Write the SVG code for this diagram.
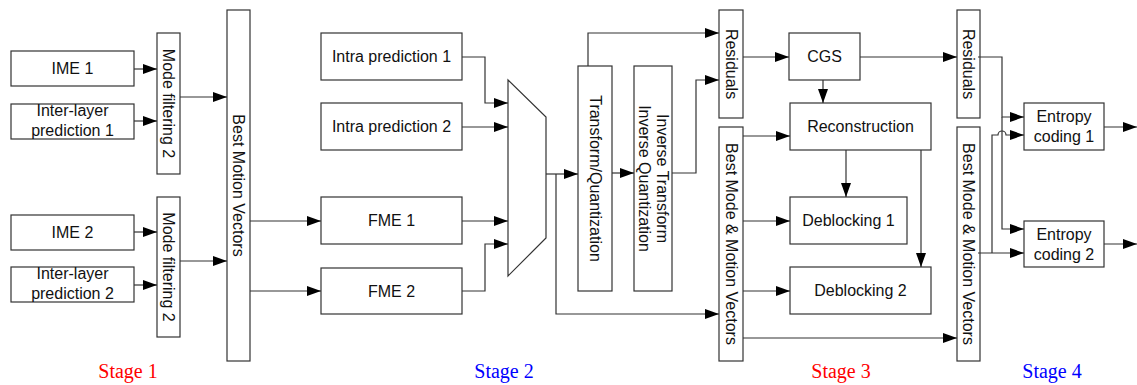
<svg xmlns="http://www.w3.org/2000/svg" width="1137" height="385" viewBox="0 0 1137 385">
  <style>
    .box { fill: #fff; stroke: #333; stroke-width: 1.2; }
    .lbl { font-family: "Liberation Sans", Arial, sans-serif; font-size: 16px; fill: #111; text-anchor: middle; }
    .vlbl { font-family: "Liberation Sans", Arial, sans-serif; font-size: 16px; fill: #111; text-anchor: middle; dominant-baseline: central; }
    .wire { fill: none; stroke: #333; stroke-width: 1.2; }
    .arr { marker-end: url(#head); }
    .stage { font-family: "Liberation Serif", "Times New Roman", serif; font-size: 20px; text-anchor: middle; }
  </style>
  <defs>
    <marker id="head" markerUnits="userSpaceOnUse" markerWidth="15" markerHeight="11" refX="14" refY="5" orient="auto">
      <path d="M0,0 L14,5 L0,10 Z" fill="#000"/>
    </marker>
  </defs>
  <rect width="1137" height="385" fill="#fff"/>

  <!-- Stage 1 -->
  <g id="ime1"><rect class="box" x="11" y="51" width="123" height="35"/><text class="lbl" x="72.5" y="74">IME 1</text></g>
  <g id="ilp1"><rect class="box" x="11" y="104" width="123" height="35"/><text class="lbl" x="72.5" y="116">Inter-layer</text><text class="lbl" x="72.5" y="136">prediction 1</text></g>
  <g id="ime2"><rect class="box" x="11" y="215" width="123" height="35"/><text class="lbl" x="72.5" y="238">IME 2</text></g>
  <g id="ilp2"><rect class="box" x="11" y="267" width="123" height="35"/><text class="lbl" x="72.5" y="279">Inter-layer</text><text class="lbl" x="72.5" y="299">prediction 2</text></g>
  <g id="modefilter1"><rect class="box" x="157" y="33" width="23" height="141"/><text class="vlbl" transform="translate(168.5,103.5) rotate(90)">Mode filtering 2</text></g>
  <g id="modefilter2"><rect class="box" x="157" y="197" width="23" height="140"/><text class="vlbl" transform="translate(168.5,267) rotate(90)">Mode filtering 2</text></g>
  <g id="bestmv"><rect class="box" x="227" y="10" width="23" height="351"/><text class="vlbl" transform="translate(238.5,185.5) rotate(90)">Best Motion Vectors</text></g>

  <!-- Stage 2 -->
  <g id="intra1"><rect class="box" x="321" y="33" width="141" height="47"/><text class="lbl" x="391.5" y="62">Intra prediction 1</text></g>
  <g id="intra2"><rect class="box" x="321" y="103" width="141" height="47"/><text class="lbl" x="391.5" y="132">Intra prediction 2</text></g>
  <g id="fme1"><rect class="box" x="321" y="197" width="141" height="47"/><text class="lbl" x="391.5" y="226">FME 1</text></g>
  <g id="fme2"><rect class="box" x="321" y="268" width="141" height="46"/><text class="lbl" x="391.5" y="297">FME 2</text></g>
  <g id="mux"><polygon class="box" points="508,80 546,117 546,238 508,276"/></g>
  <g id="transform"><rect class="box" x="578" y="66" width="34" height="225"/><text class="vlbl" transform="translate(595,178.5) rotate(90)">Transform/Quantization</text></g>
  <g id="invtransform"><rect class="box" x="634" y="66" width="38" height="225"/>
    <text class="vlbl" transform="translate(662,178.5) rotate(90)">Inverse Transform</text>
    <text class="vlbl" transform="translate(644,178.5) rotate(90)">Inverse Quantization</text></g>

  <!-- Stage 3 -->
  <g id="residuals3"><rect class="box" x="719" y="10" width="24" height="108"/><text class="vlbl" transform="translate(731,64) rotate(90)">Residuals</text></g>
  <g id="bmmv3"><rect class="box" x="719" y="127" width="24" height="234"/><text class="vlbl" transform="translate(731,244) rotate(90)">Best Mode &amp; Motion Vectors</text></g>
  <g id="cgs"><rect class="box" x="789" y="33" width="71" height="47"/><text class="lbl" x="824.5" y="62">CGS</text></g>
  <g id="reconstruction"><rect class="box" x="790" y="103" width="141" height="47"/><text class="lbl" x="860.5" y="132">Reconstruction</text></g>
  <g id="deblock1"><rect class="box" x="790" y="197" width="117" height="47"/><text class="lbl" x="848.5" y="226">Deblocking 1</text></g>
  <g id="deblock2"><rect class="box" x="790" y="267" width="141" height="47"/><text class="lbl" x="860.5" y="296">Deblocking 2</text></g>

  <!-- Stage 4 -->
  <g id="residuals4"><rect class="box" x="957" y="10" width="23" height="108"/><text class="vlbl" transform="translate(968.5,64) rotate(90)">Residuals</text></g>
  <g id="bmmv4"><rect class="box" x="957" y="127" width="23" height="234"/><text class="vlbl" transform="translate(968.5,244) rotate(90)">Best Mode &amp; Motion Vectors</text></g>
  <g id="entropy1"><rect class="box" x="1024" y="103" width="80" height="47"/><text class="lbl" x="1064" y="122">Entropy</text><text class="lbl" x="1064" y="142">coding 1</text></g>
  <g id="entropy2"><rect class="box" x="1024" y="221" width="80" height="46"/><text class="lbl" x="1064" y="240">Entropy</text><text class="lbl" x="1064" y="260">coding 2</text></g>

  <g id="connectors">
    <!-- stage 1 -->
    <path class="wire arr" d="M134,69 H157"/>
    <path class="wire arr" d="M134,121 H157"/>
    <path class="wire arr" d="M134,232 H157"/>
    <path class="wire arr" d="M134,285 H157"/>
    <path class="wire arr" d="M180,97 H227"/>
    <path class="wire arr" d="M180,261 H227"/>
    <path class="wire arr" d="M250,221 H321"/>
    <path class="wire arr" d="M250,291 H321"/>
    <!-- stage 2 -->
    <path class="wire arr" d="M462,57 H485 V103 H508"/>
    <path class="wire arr" d="M462,127 H508"/>
    <path class="wire arr" d="M462,221 H508"/>
    <path class="wire arr" d="M462,291 H485 V244 H508"/>
    <path class="wire arr" d="M546,174 H578"/>
    <path class="wire arr" d="M556,174 V314 H719"/>
    <path class="wire arr" d="M612,173 H634"/>
    <path class="wire arr" d="M588,66 V33 H719"/>
    <path class="wire arr" d="M672,173 H696 V80 H719"/>
    <!-- stage 3 -->
    <path class="wire arr" d="M743,57 H789"/>
    <path class="wire arr" d="M823,80 V103"/>
    <path class="wire arr" d="M743,136 H790"/>
    <path class="wire arr" d="M743,221 H790"/>
    <path class="wire arr" d="M743,291 H790"/>
    <path class="wire arr" d="M846,150 V197"/>
    <path class="wire arr" d="M921,150 V267"/>
    <path class="wire arr" d="M860,57 H957"/>
    <path class="wire arr" d="M743,338 H957"/>
    <!-- stage 4 -->
    <path class="wire arr" d="M978,57 H1002 V117 H1024"/>
    <path class="wire arr" d="M1002,117 V229 H1024"/>
    <path class="wire arr" d="M978,253 H1024"/>
    <path class="wire arr" d="M992,253 V135 H998 A4,4 0 0 1 1006,135 H1024"/>
    <path class="wire arr" d="M1104,127 H1137"/>
    <path class="wire arr" d="M1104,244 H1137"/>
  </g>

  <g id="stages">
    <text class="stage" x="128" y="378" fill="#ff0000">Stage 1</text>
    <text class="stage" x="504" y="378" fill="#0000ff">Stage 2</text>
    <text class="stage" x="841" y="378" fill="#ff0000">Stage 3</text>
    <text class="stage" x="1052" y="378" fill="#0000ff">Stage 4</text>
  </g>
</svg>
